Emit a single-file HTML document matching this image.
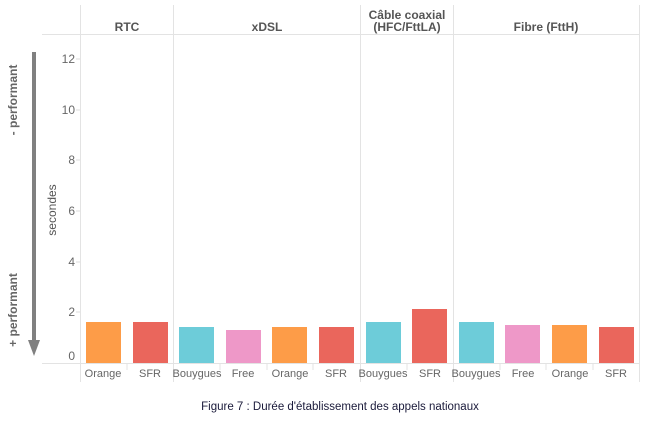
<!DOCTYPE html>
<html><head><meta charset="utf-8"><style>
body{margin:0;background:#fff;}
svg text{font-family:"Liberation Sans",sans-serif;}
</style></head><body>
<svg width="651" height="422" xmlns="http://www.w3.org/2000/svg">
<g stroke="#e3e3e3" stroke-width="1">
<line x1="80.5" y1="5" x2="80.5" y2="382"/>
<line x1="173.5" y1="5" x2="173.5" y2="382"/>
<line x1="360.5" y1="5" x2="360.5" y2="382"/>
<line x1="453.5" y1="5" x2="453.5" y2="382"/>
<line x1="639.5" y1="5" x2="639.5" y2="382"/>
<line x1="42" y1="34.5" x2="640" y2="34.5"/>
<line x1="42" y1="363.5" x2="640" y2="363.5"/>
</g>
<g stroke="#e3e3e3">
<line x1="127" y1="364" x2="127" y2="370"/><line x1="220" y1="364" x2="220" y2="370"/><line x1="267" y1="364" x2="267" y2="370"/><line x1="313" y1="364" x2="313" y2="370"/><line x1="407" y1="364" x2="407" y2="370"/><line x1="500" y1="364" x2="500" y2="370"/><line x1="546" y1="364" x2="546" y2="370"/><line x1="593" y1="364" x2="593" y2="370"/>
</g>
<g font-size="12" font-weight="bold" fill="#555" text-anchor="middle">
<text x="127" y="31">RTC</text>
<text x="267" y="31">xDSL</text>
<text x="407" y="19">Câble coaxial</text>
<text x="407" y="31">(HFC/FttLA)</text>
<text x="546" y="31">Fibre (FttH)</text>
</g>
<g font-size="12" fill="#666" text-anchor="end">
<text x="75" y="63">12</text><text x="75" y="114">10</text><text x="75" y="164">8</text><text x="75" y="215">6</text><text x="75" y="266">4</text><text x="75" y="316">2</text><text x="75" y="360">0</text>
</g>
<g stroke="#ddd"><line x1="76" y1="59" x2="80" y2="59"/><line x1="76" y1="110" x2="80" y2="110"/><line x1="76" y1="160" x2="80" y2="160"/><line x1="76" y1="211" x2="80" y2="211"/><line x1="76" y1="262" x2="80" y2="262"/><line x1="76" y1="312" x2="80" y2="312"/></g>
<text transform="translate(56,210) rotate(-90)" font-size="12" fill="#555" text-anchor="middle">secondes</text>
<text transform="translate(17,100) rotate(-90)" font-size="12" font-weight="bold" fill="#666" text-anchor="middle">- performant</text>
<text transform="translate(17,310) rotate(-90)" font-size="12" font-weight="bold" fill="#666" text-anchor="middle">+ performant</text>
<rect x="32" y="52" width="4" height="292" fill="#808080"/>
<polygon points="28,340 40,340 34,356" fill="#808080"/>
<g>
<rect x="86" y="322" width="35" height="41" fill="#fd9c48"/>
<rect x="133" y="322" width="35" height="41" fill="#ea665c"/>
<rect x="179" y="327" width="35" height="36" fill="#6dccd9"/>
<rect x="226" y="330" width="35" height="33" fill="#ee98c8"/>
<rect x="272" y="327" width="35" height="36" fill="#fd9c48"/>
<rect x="319" y="327" width="35" height="36" fill="#ea665c"/>
<rect x="366" y="322" width="35" height="41" fill="#6dccd9"/>
<rect x="412" y="309" width="35" height="54" fill="#ea665c"/>
<rect x="459" y="322" width="35" height="41" fill="#6dccd9"/>
<rect x="505" y="325" width="35" height="38" fill="#ee98c8"/>
<rect x="552" y="325" width="35" height="38" fill="#fd9c48"/>
<rect x="599" y="327" width="35" height="36" fill="#ea665c"/>
</g>
<g font-size="11" fill="#666" text-anchor="middle">
<text x="103" y="377">Orange</text><text x="150" y="377">SFR</text>
<text x="197" y="377">Bouygues</text><text x="243" y="377">Free</text><text x="290" y="377">Orange</text><text x="336" y="377">SFR</text>
<text x="383" y="377">Bouygues</text><text x="430" y="377">SFR</text>
<text x="476" y="377">Bouygues</text><text x="523" y="377">Free</text><text x="570" y="377">Orange</text><text x="616" y="377">SFR</text>
</g>
<text x="340" y="410" font-size="11.5" fill="#1a1a3a" text-anchor="middle">Figure 7 : Durée d'établissement des appels nationaux</text>
</svg>
</body></html>
